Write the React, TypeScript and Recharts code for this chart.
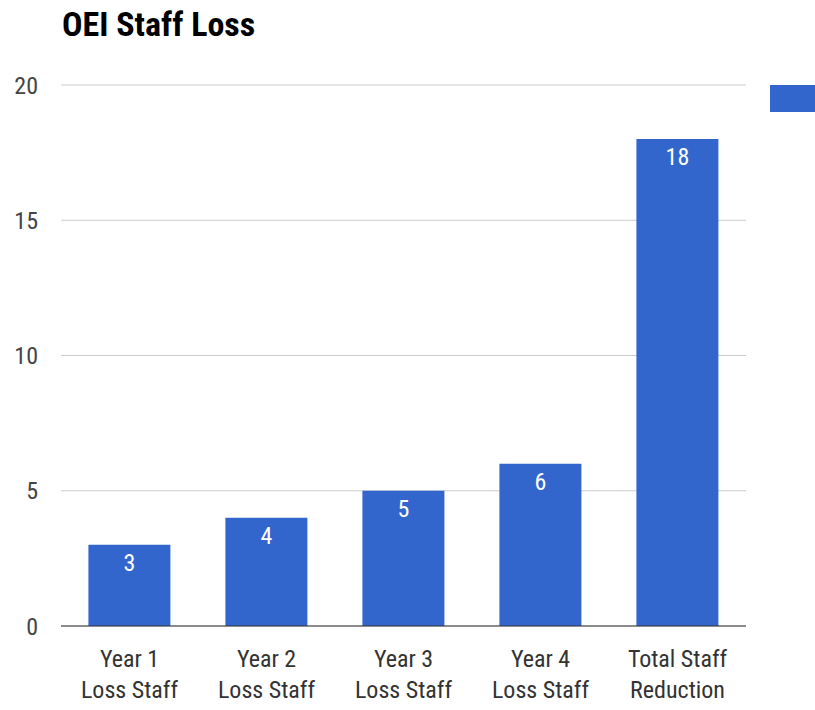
import { BarChart, Bar, XAxis, YAxis, CartesianGrid, LabelList } from 'recharts';

const categories = ['Year 1\nLoss Staff', 'Year 2\nLoss Staff', 'Year 3\nLoss Staff', 'Year 4\nLoss Staff', 'Total Staff\nReduction'];
const staffLoss = [3, 4, 5, 6, 18];
const yTicks = [0, 5, 10, 15, 20];

const data = categories.map((name, i) => ({ name, value: staffLoss[i] }));

const FONT = '"Roboto Condensed", Roboto, sans-serif';
const BLUE = '#3366cc';

function TwoLineTick(props: any) {
  const { x, y, payload } = props;
  const lines = String(payload.value).split('\n');
  return (
    <text x={x} y={y} textAnchor="middle" fill="#333" fontSize={24} fontFamily={FONT}>
      {lines.map((l, i) => (
        <tspan key={i} x={x} dy={i === 0 ? 33 : 31}>{l}</tspan>
      ))}
    </text>
  );
}

export default function App() {
  return (
    <div style={{ position: 'absolute', left: 0, top: 0, width: 815, height: 710, background: '#fff', overflow: 'hidden' }}>
      <div style={{ position: 'absolute', left: 62, top: 4, fontFamily: FONT, fontWeight: 'bold', fontSize: 34, color: '#000' }}>
        OEI Staff Loss
      </div>
      <div style={{ position: 'absolute', left: 770, top: 85, width: 45, height: 27, background: BLUE }} />
      <BarChart width={815} height={710} data={data} margin={{ top: 85, right: 69, bottom: 54, left: 0 }} barCategoryGap="20%">
        <CartesianGrid vertical={false} stroke="#cccccc" />
        <XAxis dataKey="name" tick={<TwoLineTick />} tickLine={false} axisLine={{ stroke: '#333' }} interval={0} />
        <YAxis width={61} domain={[0, 20]} ticks={yTicks} tickLine={false} axisLine={false} tickMargin={17}
          tick={{ fill: '#444', fontSize: 24, fontFamily: FONT }} />
        <Bar dataKey="value" fill={BLUE} isAnimationActive={false}>
          <LabelList dataKey="value" position="insideTop" offset={9} fill="#fff" fontSize={24} fontFamily={FONT} />
        </Bar>
      </BarChart>
    </div>
  );
}
